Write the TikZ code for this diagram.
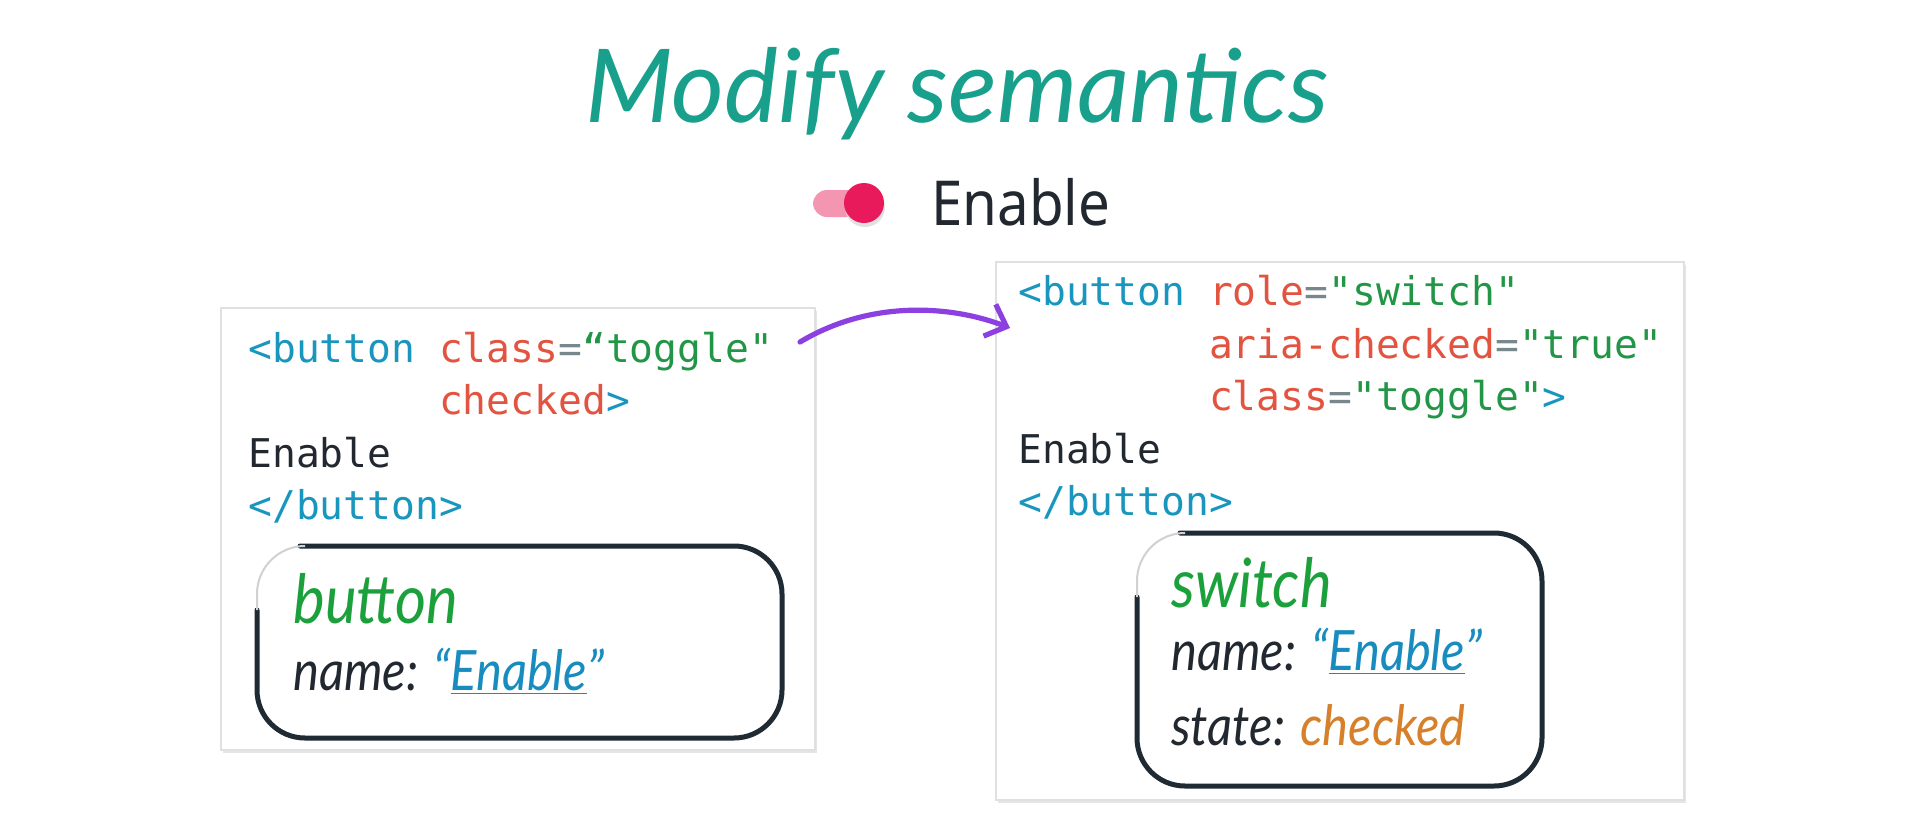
\documentclass[tikz,border=0pt]{standalone}
\usepackage{fontspec}
\setmainfont{Noto Sans}
\newfontfamily\uifont{Noto Sans}[FakeStretch=0.91]
\newfontfamily\codefont{DejaVu Sans Mono}
\newfontfamily\hand{Lato}[FakeStretch=0.88]
\newfontfamily\titlefont{Lato}
\usetikzlibrary{arrows.meta}
\definecolor{teal1}{RGB}{24,160,140}
\definecolor{tagc}{RGB}{24,150,190}
\definecolor{attrc}{RGB}{226,84,64}
\definecolor{strc}{RGB}{34,150,70}
\definecolor{eqc}{RGB}{120,135,140}
\definecolor{txtc}{RGB}{34,40,48}
\definecolor{rolec}{RGB}{28,160,60}
\definecolor{namec}{RGB}{24,140,190}
\definecolor{statec}{RGB}{214,128,44}
\definecolor{boxc}{RGB}{30,42,52}
\definecolor{arrc}{RGB}{140,64,226}
\definecolor{knobc}{RGB}{232,26,92}
\definecolor{trackc}{RGB}{244,150,178}
\tikzset{
  codeline/.style={anchor=base west,inner sep=0pt,font=\codefont\fontsize{19.8}{24}\selectfont},
  handtext/.style={anchor=base west,inner sep=0pt},
  rolefont/.style={font=\hand\itshape\fontsize{34}{40}\selectfont},
  propfont/.style={font=\hand\itshape\fontsize{27.8}{32}\selectfont},
  card/.style={fill=white,draw=black!12,line width=0.6pt},
  cardshadow/.style={fill=black!10},
  axbox/.style={draw=boxc,line width=2.5pt,rounded corners=24pt,line cap=round},
  axfade/.style={draw=black!18,line width=1pt,rounded corners=24pt},
}
\newcommand{\tg}[1]{\textcolor{tagc}{#1}}
\newcommand{\at}[1]{\textcolor{attrc}{#1}}
\newcommand{\st}[1]{\textcolor{strc}{#1}}
\newcommand{\eq}{\textcolor{eqc}{=}}
\begin{document}
\begin{tikzpicture}[x=0.5pt,y=-0.5pt]
\useasboundingbox (0,0) rectangle (1916,836);
\fill[white] (0,0) rectangle (1916,836);
% title
\node[anchor=base,inner sep=0pt,text=teal1,font=\titlefont\itshape\fontsize{51}{60}\selectfont] (title) at (957,122) {Modify semantics};
% toggle
\fill[trackc,rounded corners=7pt] (813,190) rectangle (872,217);
\fill[black!12] (865,207) circle (20);
\fill[knobc] (864,203) circle (20);
\node[anchor=base west,inner sep=0pt,text=txtc,font=\uifont\fontsize{31}{36}\selectfont] (enable) at (931,225) {Enable};
% cards
\fill[cardshadow] (223,311) rectangle (817,753);
\draw[card] (221,308) rectangle (815,750);
\fill[cardshadow] (998,265) rectangle (1686,803);
\draw[card] (996,262) rectangle (1684,800);
% left code
\node[codeline] (l1) at (248,362) {\tg{<button} \at{class}\eq\st{“toggle"}};
\node[codeline] (l2) at (248,414) {\phantom{<button }\at{checked}\tg{>}};
\node[codeline,text=txtc] (l3) at (248,467) {Enable};
\node[codeline] (l4) at (248,519) {\tg{</button>}};
% right code
\node[codeline] (r1) at (1018,305) {\tg{<button} \at{role}\eq\st{"switch"}};
\node[codeline] (r2) at (1018,358) {\phantom{<button }\at{aria-checked}\eq\st{"true"}};
\node[codeline] (r3) at (1018,410) {\phantom{<button }\at{class}\eq\st{"toggle"}\tg{>}};
\node[codeline,text=txtc] (r4) at (1018,463) {Enable};
\node[codeline] (r5) at (1018,515) {\tg{</button>}};
% arrow
\coordinate (arrS) at (800,342);
\coordinate (arrE) at (1010,328);
\draw[arrc,line width=2.6pt,line cap=round,-{Straight Barb[length=9pt,width=17pt,line width=2.6pt]}] (arrS) .. controls (870,300) and (950,305) .. (arrE);
% left accessibility box
\draw[axbox] (300,546) -- (782,546) -- (782,738) -- (257,738) -- (257,610);
\draw[axfade] (257,610) -- (257,546) -- (300,546);
\node[handtext,rolefont,text=rolec] (lrole) at (293,623) {button};
\node[handtext,propfont,text=txtc] (lname) at (293,690) {name: \textcolor{namec}{“\underline{Enable}”}};
% right accessibility box
\draw[axbox] (1180,533) -- (1542,533) -- (1542,786) -- (1137,786) -- (1137,597);
\draw[axfade] (1137,597) -- (1137,533) -- (1180,533);
\node[handtext,rolefont,text=rolec] (rrole) at (1171,607) {switch};
\node[handtext,propfont,text=txtc] (rname) at (1171,670) {name: \textcolor{namec}{“\underline{Enable}”}};
\node[handtext,propfont,text=txtc] (rstate) at (1171,745) {state: \textcolor{statec}{checked}};
\end{tikzpicture}
\end{document}
